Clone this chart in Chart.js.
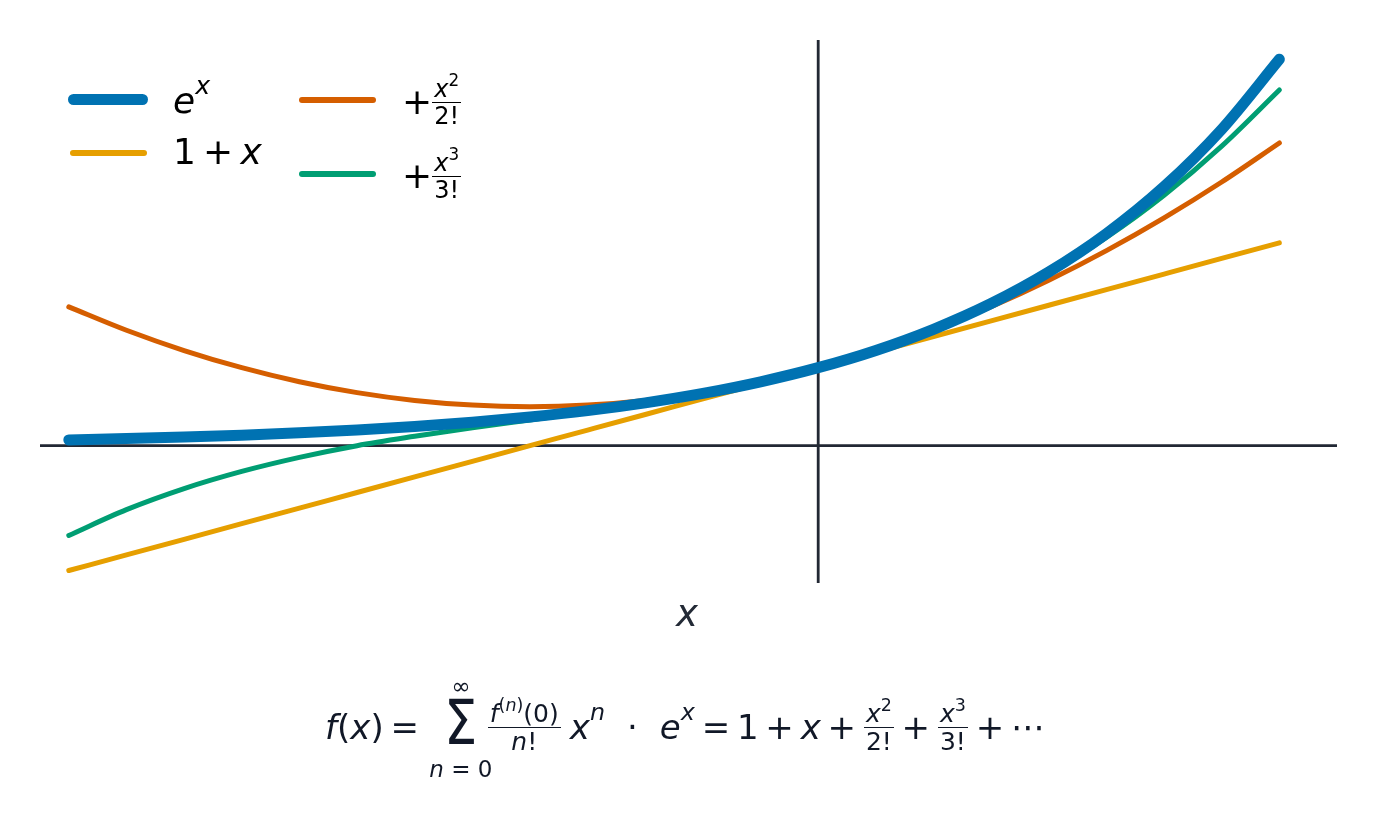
<!DOCTYPE html>
<html>
<head>
<meta charset="utf-8">
<script src="https://cdn.jsdelivr.net/npm/chart.js@4.4.1/dist/chart.umd.min.js"></script>
<style>
  body { margin: 0; background: #fff; font-family: 'DejaVu Sans', sans-serif; }
  #wrap { position: relative; width: 1377px; height: 814px; overflow: hidden; }
  #chart { position: absolute; left: 0; top: 0; }
  .sw { position: absolute; border-radius: 6px; }
  .lab { position: absolute; display: flex; align-items: center; height: 60px; font-size: 36px; line-height: 1; color: #000; white-space: nowrap; }
  i { font-style: italic; }
  .op { margin: 0 0.2em; }
  .sup { font-size: 0.7em; position: relative; top: -0.6em; }
  .frac { display: inline-flex; flex-direction: column; align-items: center; line-height: 1; }
  .frac > span:first-child { border-bottom: 1.6px solid currentColor; padding: 0 2px 1px; }
  .frac > span:last-child { padding-top: 1px; }
  .lab .frac { font-size: 24px; }
  #xlab { position: absolute; left: 0; width: 1374px; top: 595px; text-align: center; font-size: 37px; line-height: 1; color: #232a36; }
  #formula { position: absolute; left: 0; width: 1370px; top: 667px; height: 120px; display: flex; justify-content: center; align-items: center; font-size: 34px; line-height: 1; color: #111827; white-space: nowrap; }
  #formula > span { display: inline-flex; align-items: center; }
  #formula > span.sum { flex-direction: column; align-items: center; width: 34px; margin: 0 10px 0 18px; }
  .sum .lim { font-size: 23px; line-height: 24px; height: 24px; white-space: nowrap; }
  .sum .sig { font-size: 62px; line-height: 50px; height: 50px; transform: scaleX(0.85); }
  .sum .lim.low { margin-top: 9px; }
  #formula .frac { font-size: 25px; margin: 0 1px; }
  #formula .frac.big { margin: 0 9px 0 0; }
</style>
</head>
<body>
<div id="wrap">
  <canvas id="chart" width="1377" height="814"></canvas>

  <div class="sw" style="left:68px;top:94px;width:80px;height:11px;background:#0072B2"></div>
  <div class="sw" style="left:70px;top:150px;width:77px;height:6px;background:#E69F00"></div>
  <div class="sw" style="left:299px;top:97px;width:77px;height:6px;background:#D55E00"></div>
  <div class="sw" style="left:299px;top:171px;width:77px;height:6px;background:#009E73"></div>

  <div class="lab" style="left:173px;top:71px"><i>e</i><span class="sup"><i>x</i></span></div>
  <div class="lab" style="left:173px;top:122px">1<span class="op">+</span><i>x</i></div>
  <div class="lab" style="left:402px;top:72px">+<span class="frac"><span><i>x</i><span class="sup">2</span></span><span>2!</span></span></div>
  <div class="lab" style="left:402px;top:146px">+<span class="frac"><span><i>x</i><span class="sup">3</span></span><span>3!</span></span></div>

  <div id="xlab"><i>x</i></div>

  <div id="formula">
    <span><i>f</i>(<i>x</i>)<span class="op">=</span></span>
    <span class="sum"><span class="lim">∞</span><span class="sig">Σ</span><span class="lim low"><i>n</i> = 0</span></span>
    <span class="frac big"><span><i>f</i><span class="sup">(<i>n</i>)</span>(0)</span><span><i>n</i>!</span></span>
    <span><i>x</i><span class="sup"><i>n</i></span></span>
    <span style="margin:0 22px">·</span>
    <span><i>e</i><span class="sup"><i>x</i></span><span class="op">=</span>1<span class="op">+</span><i>x</i><span class="op">+</span></span>
    <span class="frac"><span><i>x</i><span class="sup">2</span></span><span>2!</span></span>
    <span><span class="op">+</span></span>
    <span class="frac"><span><i>x</i><span class="sup">3</span></span><span>3!</span></span>
    <span><span class="op">+</span>⋯</span>
  </div>
</div>

<script>
// sample points along x and the curves
const xVals = [-2.6, -2.4, -2.2, -2.0, -1.8, -1.6, -1.4, -1.2, -1.0, -0.8, -0.6, -0.4, -0.2, 0, 0.2, 0.4, 0.6, 0.8, 1.0, 1.2, 1.4, 1.6];
const expVals = [0.074, 0.091, 0.111, 0.135, 0.165, 0.202, 0.247, 0.301, 0.368, 0.449, 0.549, 0.670, 0.819, 1.000, 1.221, 1.492, 1.822, 2.226, 2.718, 3.320, 4.055, 4.953];
const linVals = [-1.6, -1.4, -1.2, -1.0, -0.8, -0.6, -0.4, -0.2, 0.0, 0.2, 0.4, 0.6, 0.8, 1.0, 1.2, 1.4, 1.6, 1.8, 2.0, 2.2, 2.4, 2.6];
const quadVals = [1.78, 1.48, 1.22, 1.00, 0.82, 0.68, 0.58, 0.52, 0.50, 0.52, 0.58, 0.68, 0.82, 1.00, 1.22, 1.48, 1.78, 2.12, 2.50, 2.92, 3.38, 3.88];
const cubicVals = [-1.15, -0.82, -0.55, -0.33, -0.15, 0.00, 0.12, 0.23, 0.33, 0.43, 0.54, 0.67, 0.82, 1.00, 1.22, 1.49, 1.82, 2.21, 2.67, 3.21, 3.84, 4.56];

const toPts = (ys) => xVals.map((x, i) => ({ x: x, y: ys[i] }));

// axes crossing at the origin, drawn under the curves
const originAxes = {
    id: 'originAxes',
    beforeDatasetsDraw(chart) {
        const { ctx, chartArea: a, scales } = chart;
        const x0 = scales.x.getPixelForValue(0);
        const y0 = scales.y.getPixelForValue(0);
        ctx.save();
        ctx.strokeStyle = '#222834';
        ctx.lineWidth = 2.8;
        ctx.beginPath();
        ctx.moveTo(a.left, y0); ctx.lineTo(a.right, y0);
        ctx.moveTo(x0, a.top); ctx.lineTo(x0, a.bottom);
        ctx.stroke();
        ctx.restore();
    }
};

const lineStyle = { pointRadius: 0, fill: false, cubicInterpolationMode: 'monotone', borderCapStyle: 'round', borderJoinStyle: 'round', clip: false };

new Chart(document.getElementById('chart').getContext('2d'), {
    type: 'line',
    data: {
        datasets: [
            { label: 'e^x', data: toPts(expVals), borderColor: '#0072B2', borderWidth: 11, ...lineStyle },
            { label: '1 + x', data: toPts(linVals), borderColor: '#E69F00', borderWidth: 5, ...lineStyle },
            { label: '+x^3/3!', data: toPts(cubicVals), borderColor: '#009E73', borderWidth: 5, ...lineStyle },
            { label: '+x^2/2!', data: toPts(quadVals), borderColor: '#D55E00', borderWidth: 5, ...lineStyle }
        ]
    },
    options: {
        responsive: false,
        animation: false,
        layout: { padding: { left: 40, right: 40, top: 40, bottom: 231 } },
        plugins: { legend: { display: false }, tooltip: { enabled: false } },
        scales: {
            x: { type: 'linear', min: -2.7, max: 1.8, display: false },
            y: { min: -1.76, max: 5.2, display: false }
        }
    },
    plugins: [originAxes]
});
</script>
</body>
</html>
